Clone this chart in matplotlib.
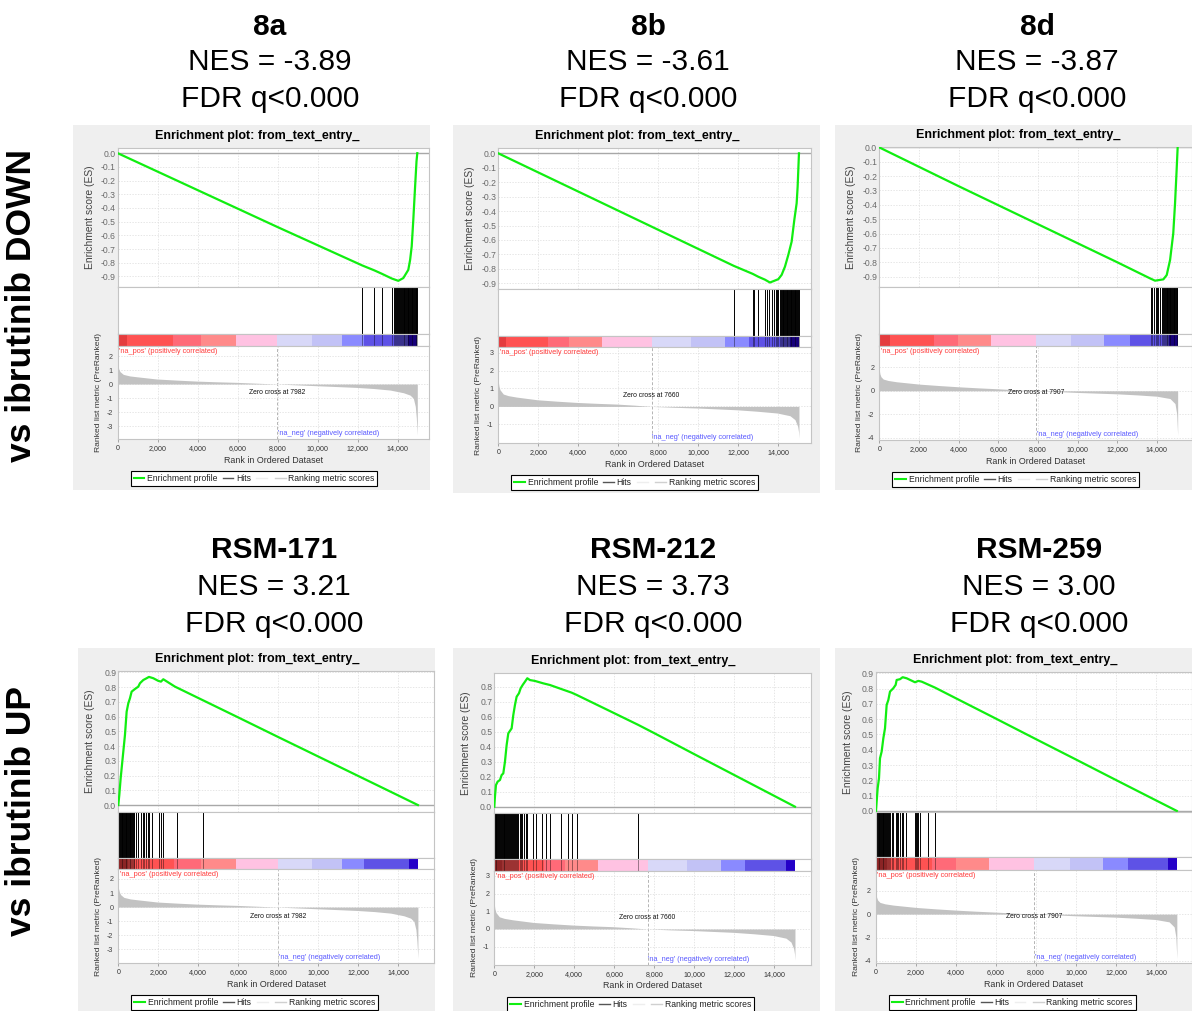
import matplotlib.pyplot as plt
import numpy as np
from matplotlib.lines import Line2D
from matplotlib.patches import Rectangle
from matplotlib.ticker import FuncFormatter

plt.rcParams['font.family'] = ['Liberation Sans', 'DejaVu Sans']
plt.rcParams['axes.unicode_minus'] = False

W, H = 1192, 1011

# headings
row_labels = ['vs ibrutinib DOWN', 'vs ibrutinib UP']
names = ['8a', '8b', '8d', 'RSM-171', 'RSM-212', 'RSM-259']
nes = [-3.89, -3.61, -3.87, 3.21, 3.73, 3.00]
fdr = ['q<0.000'] * 6

# three ranked lists, each used by one column
zero_cross = [7982, 7660, 7907]

metric_rank_a = [0, 60, 120, 280, 600, 950, 1950, 2950, 3950, 4950, 5950, 6950, 7982,
                 8950, 9950, 10950, 11920, 12800, 13620, 14283, 14617, 14783, 14880, 14930, 14980]
metric_a = [1.38, 1.05, 0.88, 0.69, 0.58, 0.52, 0.36, 0.28, 0.21, 0.16, 0.12, 0.06, 0.0,
            -0.06, -0.12, -0.18, -0.24, -0.32, -0.43, -0.62, -0.79, -1.02, -1.6, -2.4, -3.64]
metric_rank_b = [0, 30, 83, 250, 500, 917, 1950, 2950, 3950, 4950, 5917, 6800, 7660,
                 8800, 9950, 10950, 11950, 12950, 13950, 14583, 14833, 14967, 15010, 15033]
metric_b = [1.4, 1.15, 0.93, 0.69, 0.6, 0.52, 0.37, 0.29, 0.22, 0.17, 0.13, 0.07, 0.0,
            -0.05, -0.09, -0.14, -0.19, -0.27, -0.37, -0.52, -0.74, -1.11, -1.4, -1.76]
metric_rank_c = [0, 30, 84, 200, 450, 874, 2017, 3000, 4017, 5000, 6000, 7000, 7907,
                 9000, 9983, 11000, 12000, 13000, 13983, 14655, 14908, 14992, 15042]
metric_c = [1.8, 1.45, 1.2, 1.0, 0.88, 0.77, 0.57, 0.45, 0.34, 0.25, 0.17, 0.08, 0.0,
            -0.07, -0.14, -0.2, -0.26, -0.35, -0.46, -0.66, -1.09, -1.94, -3.8]

band_edges_a = [0, 470, 2780, 4150, 5900, 7982, 9700, 11200, 12300, 14530, 14980]
band_edges_b = [0, 380, 2470, 3520, 5190, 7660, 9630, 11350, 12530, 14560, 15033]
band_edges_c = [0, 560, 2780, 3980, 5630, 7907, 9680, 11330, 12620, 14610, 15042]
band_colors = ['#e43c3e', '#ff5252', '#ff6a78', '#ff8a8a', '#ffc2e2',
               '#d8d8f8', '#c2c2f6', '#8a8aff', '#5e52e6', '#2400c8']

# running enrichment scores
es_rank_8a = [0, 4000, 8000, 12230, 12820, 13200, 13700, 14030, 14280, 14530, 14620,
              14700, 14780, 14870, 14940, 14980]
es_8a = [0, -0.27, -0.54, -0.82, -0.855, -0.88, -0.915, -0.932, -0.912, -0.852, -0.78,
         -0.681, -0.487, -0.243, -0.06, 0]
es_rank_8b = [0, 4000, 8000, 11780, 12720, 13000, 13330, 13583, 14000, 14167, 14333,
              14500, 14667, 14800, 14917, 14967, 15033]
es_8b = [0, -0.265, -0.53, -0.78, -0.835, -0.855, -0.875, -0.895, -0.872, -0.842, -0.785,
         -0.704, -0.612, -0.462, -0.346, -0.231, 0]
es_rank_8d = [0, 4000, 8000, 12000, 13650, 13900, 14320, 14490, 14660, 14820, 14910,
              14990, 15042]
es_8d = [0, -0.27, -0.535, -0.8, -0.912, -0.928, -0.919, -0.889, -0.784, -0.599, -0.39,
         -0.158, 0]
es_rank_171 = [0, 50, 117, 200, 283, 333, 417, 500, 583, 667, 833, 1000, 1083, 1250, 1417,
               1533, 1750, 2000, 2133, 2250, 2833, 4000, 6000, 8000, 10000, 12000, 14000, 14980]
es_171 = [0, 0.068, 0.18, 0.294, 0.407, 0.475, 0.633, 0.69, 0.724, 0.769, 0.787, 0.803,
          0.826, 0.848, 0.86, 0.869, 0.86, 0.842, 0.837, 0.853, 0.803, 0.726, 0.594, 0.461,
          0.329, 0.197, 0.065, 0]
es_rank_212 = [0, 33, 83, 167, 283, 367, 450, 533, 617, 700, 867, 950, 1033, 1117, 1233,
               1317, 1417, 1533, 1650, 1783, 2033, 2450, 2783, 3333, 3867, 4117, 6000, 7200,
               8000, 10000, 12000, 14000, 15033]
es_212 = [0, 0.067, 0.144, 0.167, 0.178, 0.211, 0.222, 0.3, 0.411, 0.489, 0.522, 0.611,
          0.678, 0.733, 0.756, 0.789, 0.811, 0.833, 0.856, 0.844, 0.838, 0.822, 0.811, 0.785,
          0.76, 0.745, 0.623, 0.545, 0.49, 0.35, 0.211, 0.072, 0]
es_rank_259 = [0, 33, 83, 150, 200, 283, 367, 450, 533, 617, 700, 867, 983, 1033, 1200,
               1333, 1533, 1950, 2117, 2283, 2950, 4000, 6000, 8000, 10000, 12000, 14000, 15042]
es_259 = [0, 0.061, 0.148, 0.214, 0.344, 0.388, 0.475, 0.54, 0.693, 0.725, 0.78, 0.802,
          0.824, 0.856, 0.861, 0.874, 0.867, 0.841, 0.85, 0.845, 0.806, 0.736, 0.603, 0.469,
          0.336, 0.202, 0.069, 0]

# gene set hit positions in the ranked list
hits_8a = [12230, 12820, 13200, 13730, 13800, 13870, 13930, 13980, 14030, 14080, 14120,
           14160, 14200, 14250, 14290, 14330, 14370, 14410, 14450, 14490, 14530, 14570,
           14610, 14650, 14690, 14730, 14770, 14810, 14850, 14890, 14930, 14970]
hits_8b = [11780, 12720, 12800, 13000, 13330, 13450, 13530, 13670, 13780, 13880, 13950,
           14000, 14060, 14110, 14160, 14210, 14250, 14290, 14330, 14370, 14410, 14450,
           14490, 14530, 14570, 14610, 14650, 14690, 14730, 14770, 14810, 14850, 14890,
           14930, 14970, 15010]
hits_8d = [13700, 13765, 13850, 13930, 13980, 14070, 14150, 14270, 14320, 14360, 14400,
           14440, 14480, 14520, 14560, 14600, 14640, 14680, 14720, 14760, 14800, 14840,
           14880, 14920, 14960, 15000, 15030]
hits_171 = [10, 50, 90, 130, 170, 210, 250, 290, 330, 370, 410, 450, 490, 530, 570, 610,
            650, 690, 730, 770, 800, 883, 1000, 1133, 1217, 1300, 1383, 1467, 1533, 1700,
            2033, 2133, 2250, 2917, 4250]
hits_212 = [20, 60, 100, 150, 200, 230, 280, 330, 370, 420, 460, 500, 540, 600, 650, 700,
            740, 800, 850, 900, 950, 1000, 1050, 1100, 1150, 1200, 1260, 1320, 1400, 1480,
            1560, 1640, 1950, 2083, 2367, 2583, 2783, 3333, 3667, 3867, 4117, 7200]
hits_259 = [10, 50, 90, 130, 170, 210, 250, 290, 330, 370, 410, 450, 490, 540, 590, 640,
            700, 783, 867, 983, 1033, 1117, 1200, 1283, 1333, 1483, 1950, 2000, 2067, 2117,
            2200, 2583, 2950]

metric_ranks = [metric_rank_a, metric_rank_b, metric_rank_c]
metrics = [metric_a, metric_b, metric_c]
band_edges = [band_edges_a, band_edges_b, band_edges_c]
es_ranks = [es_rank_8a, es_rank_8b, es_rank_8d, es_rank_171, es_rank_212, es_rank_259]
es_values = [es_8a, es_8b, es_8d, es_171, es_212, es_259]
hits = [hits_8a, hits_8b, hits_8d, hits_171, hits_212, hits_259]

# pixel layout of each GSEA panel: grey box, plot x-range,
# y of ES top / ES bottom / hits bottom / bar bottom / metric bottom
layouts = [
    dict(bg=(73, 125, 430, 490), x=(117.7, 429.3), y=(147.7, 286.7, 334.3, 345.7, 439.3),
         es_lim=(-0.975, 0.04), m_lim=(-3.95, 2.74), m_ticks=[2, 1, 0, -1, -2, -3], xmax=15580),
    dict(bg=(453, 125, 820, 493), x=(498.3, 810.7), y=(147.7, 289.3, 336, 347.3, 443.3),
         es_lim=(-0.942, 0.039), m_lim=(-2.06, 3.3), m_ticks=[3, 2, 1, 0, -1], xmax=15620),
    dict(bg=(835, 125, 1192, 490), x=(879.3, 1191.5), y=(146.7, 286.7, 334.3, 345.7, 440),
         es_lim=(-0.97, 0.005), m_lim=(-4.2, 3.85), m_ticks=[2, 0, -2, -4], xmax=15740),
    dict(bg=(78, 648, 435, 1011), x=(118.3, 434.5), y=(671, 811.7, 857.5, 869, 963.3),
         es_lim=(-0.045, 0.909), m_lim=(-4.0, 2.71), m_ticks=[2, 1, 0, -1, -2, -3], xmax=15810),
    dict(bg=(453, 648, 820, 1011), x=(494.3, 810.7), y=(672.7, 813.3, 859.3, 870.7, 965),
         es_lim=(-0.044, 0.893), m_lim=(-2.04, 3.3), m_ticks=[3, 2, 1, 0, -1], xmax=15820),
    dict(bg=(835, 648, 1192, 1011), x=(876, 1191.5), y=(671.7, 811.7, 857.3, 870, 963.3),
         es_lim=(-0.005, 0.91), m_lim=(-4.2, 3.77), m_ticks=[2, 0, -2, -4], xmax=15775),
]

heading_x = [270, 648, 1037, 274, 653, 1039]
heading_y = [(27, 62, 99), (550, 587, 624)]

fig = plt.figure(figsize=(W / 100, H / 100), dpi=100)
fig.patch.set_facecolor('white')


def fx(x):
    return x / W


def fy(y):
    return 1 - y / H


def px_axes(x0, y0, x1, y1):
    return fig.add_axes([x0 / W, 1 - y1 / H, (x1 - x0) / W, (y1 - y0) / H])


def box(ax):
    for s in ax.spines.values():
        s.set_color('#c4c4c4')
        s.set_linewidth(0.8)


grid_kw = dict(color='#dcdcdc', linestyle=(0, (2, 2)), linewidth=0.5)
xticks = list(range(0, 15000, 2000))

for r, label in enumerate(row_labels):
    cy = 305 if r == 0 else 811
    fig.text(fx(22), fy(cy), label, rotation=90, ha='center', va='center',
             fontsize=25.5, fontweight='bold')

for i, lay in enumerate(layouts):
    ds = i % 3
    row = i // 3
    bx0, by0, bx1, by1 = lay['bg']
    x0, x1 = lay['x']
    t_es, b_es, b_hits, b_bar, b_met = lay['y']
    xmax = lay['xmax']

    # headings above the panel
    hy = heading_y[row]
    fig.text(fx(heading_x[i]), fy(hy[0]), names[i], ha='center', va='center',
             fontsize=21.5, fontweight='bold')
    fig.text(fx(heading_x[i]), fy(hy[1]), f'NES = {nes[i]:.2f}', ha='center', va='center',
             fontsize=21.5)
    fig.text(fx(heading_x[i]), fy(hy[2]), f'FDR {fdr[i]}', ha='center', va='center',
             fontsize=21.5)

    fig.add_artist(Rectangle((fx(bx0), fy(by1)), (bx1 - bx0) / W, (by1 - by0) / H,
                             transform=fig.transFigure, facecolor='#efefef',
                             edgecolor='none', zorder=-5))
    fig.text(fx(x0 + 139), fy(t_es - 12), 'Enrichment plot: from_text_entry_',
             ha='center', va='center', fontsize=9, fontweight='bold')

    # enrichment score
    ax = px_axes(x0, t_es, x1, b_es)
    box(ax)
    ax.plot(es_ranks[i], es_values[i], color='#11ee11', lw=1.6, solid_joinstyle='round', zorder=3)
    ax.axhline(0, color='#a8a8a8', lw=1.0, zorder=2)
    ax.set_xlim(0, xmax)
    ax.set_ylim(*lay['es_lim'])
    lo, hi = lay['es_lim']
    ticks = [t / 10 for t in range(int(np.ceil(lo * 10)), int(np.floor(hi * 10)) + 1)]
    ax.set_yticks(ticks)
    ax.yaxis.set_major_formatter(FuncFormatter(lambda v, p: f'{v + 0:.1f}'))
    ax.set_xticks(xticks)
    ax.tick_params(axis='x', length=0, labelbottom=False)
    ax.tick_params(axis='y', length=0, pad=1.5, labelsize=6.2, labelcolor='#6a6a6a')
    ax.grid(True, **grid_kw)
    fig.text(fx(x0 - 28), fy((t_es + b_es) / 2), 'Enrichment score (ES)', rotation=90,
             ha='center', va='center', fontsize=7.4, color='#444444')

    # hits
    axh = px_axes(x0, b_es, x1, b_hits)
    box(axh)
    axh.vlines(hits[i], 0, 1, color='black', lw=0.7)
    axh.set_xlim(0, xmax)
    axh.set_ylim(0, 1)
    axh.set_xticks([])
    axh.set_yticks([])

    # ranked list colour bar
    axb = px_axes(x0, b_hits, x1, b_bar)
    box(axb)
    edges = band_edges[ds]
    for k in range(len(band_colors)):
        axb.axvspan(edges[k], edges[k + 1], color=band_colors[k], lw=0)
    axb.vlines(hits[i], 0, 1, color='black', lw=0.7, alpha=0.4)
    axb.set_xlim(0, xmax)
    axb.set_ylim(0, 1)
    axb.set_xticks([])
    axb.set_yticks([])

    # ranked list metric
    axm = px_axes(x0, b_bar, x1, b_met)
    box(axm)
    axm.fill_between(metric_ranks[ds], 0, metrics[ds], color='#c2c2c2', lw=0, zorder=2)
    axm.axvline(zero_cross[ds], color='#b4b4b4', ls=(0, (3, 2)), lw=0.7, zorder=1)
    axm.set_xlim(0, xmax)
    axm.set_ylim(*lay['m_lim'])
    axm.set_yticks(lay['m_ticks'])
    axm.yaxis.set_major_formatter(FuncFormatter(lambda v, p: f'{int(round(v))}'))
    axm.set_xticks(xticks)
    axm.xaxis.set_major_formatter(FuncFormatter(lambda v, p: f'{int(v):,}'))
    axm.tick_params(axis='x', length=2, width=0.6, color='#999999', pad=2,
                    labelsize=5.1, labelcolor='#333333')
    axm.tick_params(axis='y', length=0, pad=3.5, labelsize=5.2, labelcolor='#444444')
    axm.grid(True, **grid_kw)
    xt = axm.get_xaxis_transform()
    hpx = b_met - b_bar
    axm.text(xmax * 0.004, 1 - 5.4 / hpx, "'na_pos' (positively correlated)", transform=xt,
             ha='left', va='center', fontsize=5.3, color='#ff3c3c')
    axm.text(zero_cross[ds] + 40, 5.8 / hpx, "'na_neg' (negatively correlated)", transform=xt,
             ha='left', va='center', fontsize=5.3, color='#5a5aff')
    axm.text(zero_cross[ds], 0.5, f'Zero cross at {zero_cross[ds]}', transform=xt,
             ha='center', va='center', fontsize=4.9, color='#111111', zorder=4)
    fig.text(fx(x0 - 19.5), fy((b_bar + b_met) / 2), 'Ranked list metric (PreRanked)',
             rotation=90, ha='center', va='center', fontsize=6.1, color='#333333')
    fig.text(fx((x0 + x1) / 2), fy(b_met + 21), 'Rank in Ordered Dataset',
             ha='center', va='center', fontsize=6.4, color='#333333')

    handles = [Line2D([], [], color='#11ee11', lw=1.5),
               Line2D([], [], color='#555555', lw=1.0),
               Line2D([], [], color='#eeeeee', lw=1.0),
               Line2D([], [], color='#d0d0d0', lw=1.0)]
    leg = fig.legend(handles, ['Enrichment profile', 'Hits', '', 'Ranking metric scores'],
                     loc='upper left', bbox_to_anchor=(fx(x0 + 13), fy(b_met + 32)),
                     ncol=4, fontsize=6.2, frameon=True, fancybox=False, edgecolor='black',
                     framealpha=1, borderpad=0.35, handlelength=1.25, handletextpad=0.3,
                     columnspacing=0.6, borderaxespad=0)
    leg.get_frame().set_linewidth(0.8)
    for t in leg.get_texts():
        t.set_color('#222222')

fig.savefig('out.png', dpi=100)
